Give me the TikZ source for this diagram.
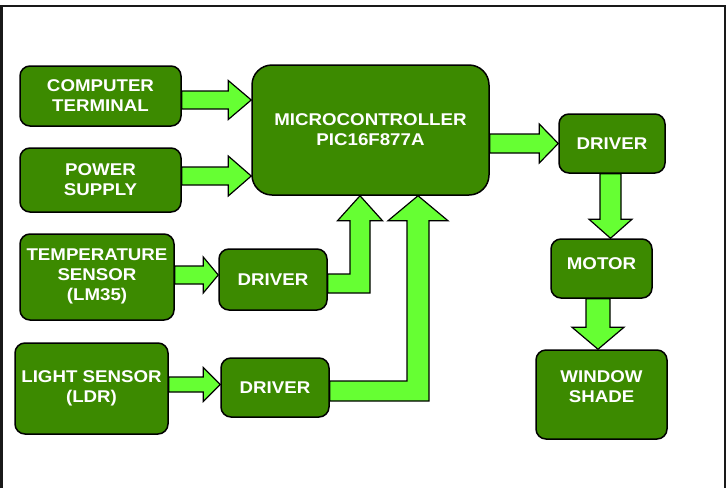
\documentclass[tikz,border=0pt]{standalone}
\usepackage{fontspec}
\newfontfamily\blockfont{Liberation Sans}[FakeStretch=1.1]
\usepackage{tikz}
\usetikzlibrary{calc}
\usepackage{xcolor}
\definecolor{mgreen}{HTML}{3C8A00}
\definecolor{lgreen}{HTML}{66FF33}
\tikzstyle{block}=[rectangle, draw=black, line width=1.5, fill=mgreen, text=white, rounded corners=10pt, align=center, inner sep=0pt, font=\blockfont\bfseries\fontsize{17}{20}\selectfont]
\tikzstyle{barrow}=[draw=black, line width=1.2, fill=lgreen, line join=miter]
\tikzstyle{frame}=[line width=2.5, draw=black!90]

% block arrows: from node, to node, centre line, shaft half width, head half width, head length
\newcommand{\harrow}[6]{%
  \draw[barrow] ($(#1.east |- 0,#3)+(0,-#4)$) -- ($(#2.west |- 0,#3)+(-#6,-#4)$)
    -- ($(#2.west |- 0,#3)+(-#6,-#5)$) -- (#2.west |- 0,#3)
    -- ($(#2.west |- 0,#3)+(-#6,#5)$) -- ($(#2.west |- 0,#3)+(-#6,#4)$)
    -- ($(#1.east |- 0,#3)+(0,#4)$) -- cycle;}
\newcommand{\varrow}[6]{%
  \draw[barrow] ($(#1.south -| #3,0)+(-#4,0)$) -- ($(#2.north -| #3,0)+(-#4,-#6)$)
    -- ($(#2.north -| #3,0)+(-#5,-#6)$) -- (#2.north -| #3,0)
    -- ($(#2.north -| #3,0)+(#5,-#6)$) -- ($(#2.north -| #3,0)+(#4,-#6)$)
    -- ($(#1.south -| #3,0)+(#4,0)$) -- cycle;}
% bent arrow: from node, to node, x of riser, y of run, run half width, riser half width, head half width, head length
\newcommand{\larrow}[8]{%
  \draw[barrow] ($(#1.east |- 0,#4)+(0,-#5)$) -- ({#3-#6},{#4-#5})
    -- ($(#2.south -| #3,0)+(-#6,#8)$) -- ($(#2.south -| #3,0)+(-#7,#8)$)
    -- (#2.south -| #3,0)
    -- ($(#2.south -| #3,0)+(#7,#8)$) -- ($(#2.south -| #3,0)+(#6,#8)$)
    -- ({#3+#6},{#4+#5}) -- ($(#1.east |- 0,#4)+(0,#5)$) -- cycle;}

\begin{document}
\begin{tikzpicture}[x=1pt,y=-1pt]
    \useasboundingbox (0,0) rectangle (728,488);
    \fill[white] (0,0) rectangle (728,488);
    \draw[frame] (1.5,488) -- (1.5,6) -- (725,6) -- (725,488);

    \node[block, minimum width=161, minimum height=60] (comp)  at (100.5,96)  {COMPUTER\\TERMINAL};
    \node[block, minimum width=161, minimum height=64] (power) at (100.5,180) {POWER\\SUPPLY};
    \node[block, minimum width=154, minimum height=86, text depth=4pt] (temp) at (97,277) {TEMPERATURE\\SENSOR\\(LM35)};
    \node[block, minimum width=153, minimum height=91] (light) at (91.5,388.5) {LIGHT SENSOR\\(LDR)};
    \node[block, minimum width=108, minimum height=61] (drvt)  at (273,279.5) {DRIVER};
    \node[block, minimum width=108, minimum height=59] (drvl)  at (275,387.5) {DRIVER};
    \node[block, minimum width=237, minimum height=130, rounded corners=20pt] (mcu) at (370.5,130) {MICROCONTROLLER\\PIC16F877A};
    \node[block, minimum width=106, minimum height=59] (drvm)  at (612,143.5) {DRIVER};
    \node[block, minimum width=101, minimum height=59, text depth=10pt] (motor) at (601.5,268.5) {MOTOR};
    \node[block, minimum width=131, minimum height=89, text depth=16pt] (shade) at (601.5,394.5) {WINDOW\\SHADE};

    \harrow{comp}{mcu}{100}{9}{19.5}{23}
    \harrow{power}{mcu}{176}{9}{20}{23}
    \harrow{mcu}{drvm}{143.5}{9.5}{19.5}{19}
    \harrow{temp}{drvt}{275}{9}{18}{15}
    \harrow{light}{drvl}{384.5}{7.5}{17}{17}
    \varrow{drvm}{motor}{610.5}{10.5}{21.5}{19}
    \varrow{motor}{shade}{598}{12}{26}{22}
    \larrow{drvt}{mcu}{360}{283.5}{9.5}{10}{22.5}{25}
    \larrow{drvl}{mcu}{418}{391}{10}{11}{30}{25}
\end{tikzpicture}
\end{document}
